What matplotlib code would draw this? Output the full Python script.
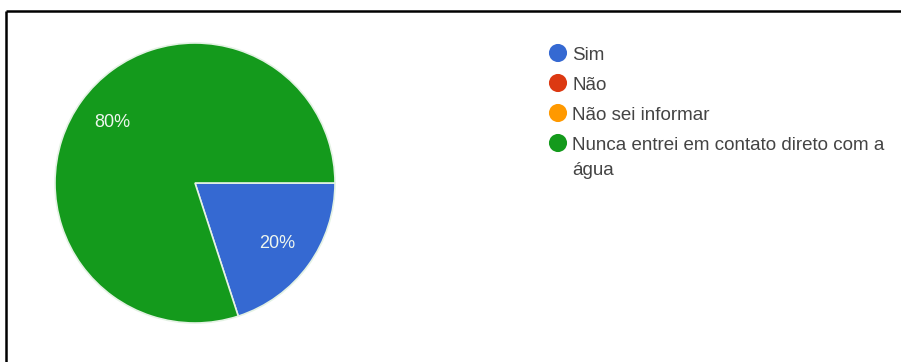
import matplotlib.pyplot as plt
import numpy as np

plt.rcParams["font.family"] = ["Liberation Sans", "DejaVu Sans"]

# Survey answers and their shares (%)
categories = ["Sim", "Não", "Não sei informar", "Nunca entrei em contato direto com a\nágua"]
shares = [20, 0, 0, 80]
colors = ["#3569d2", "#dc3912", "#ff9900", "#149a1c"]


def main() -> None:
    fig = plt.figure(figsize=(9.01, 3.62), dpi=100)
    W, H = 901, 362

    # Pie axes: centre (195, 183) px, radius 140 px
    cx, cy, r = 195, 183, 140
    ax = fig.add_axes([(cx - r) / W, (H - cy - r) / H, 2 * r / W, 2 * r / H])

    vals = np.array(shares, dtype=float)
    keep = vals > 0
    ax.pie(
        vals[keep],
        colors=[c for c, k in zip(colors, keep) if k],
        startangle=0,
        counterclock=False,
        radius=1.0,
        autopct=lambda p: f"{p:.0f}%",
        pctdistance=0.73,
        wedgeprops={"edgecolor": "#e4f2e4", "linewidth": 1.2},
        textprops={"color": "#eef6ee", "fontsize": 13},
    )
    ax.set_xlim(-1, 1)
    ax.set_ylim(-1, 1)
    ax.set_aspect("equal")
    ax.axis("off")

    # Overlay in pixel coordinates for the frame and the legend
    ov = fig.add_axes([0, 0, 1, 1])
    ov.set_xlim(0, W)
    ov.set_ylim(H, 0)
    ov.axis("off")
    ov.patch.set_alpha(0)

    ov.plot([6, W], [11, 11], color="black", linewidth=1.8, solid_capstyle="butt")
    ov.plot([6, 6], [11, H], color="black", linewidth=1.8, solid_capstyle="butt")

    for i, (label, color) in enumerate(zip(categories, colors)):
        y = 53 + i * 30
        ov.scatter([558], [y], s=170, color=color, edgecolors="none")
        ov.text(572, y - 6, label, fontsize=13.5, color="#444444", va="top",
                ha="left", linespacing=1.6)

    fig.savefig("out.png", dpi=100)
    plt.close(fig)


if __name__ == "__main__":
    main()
